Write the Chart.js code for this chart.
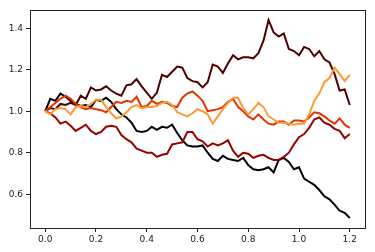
<!DOCTYPE html>
<html>
<head>
<meta charset="utf-8">
<script src="https://cdn.jsdelivr.net/npm/chart.js@4"></script>
<style>
  html, body { margin: 0; padding: 0; background: #fff; }
  #wrap { width: 375px; height: 252px; }
</style>
</head>
<body>
<div id="wrap"><canvas id="chart" width="375" height="252"></canvas></div>
<script>
// time steps (0.00 .. 1.20, every 0.02)
const steps = [0, .02, .04, .06, .08, .10, .12, .14, .16, .18, .20, .22, .24, .26, .28, .30,
  .32, .34, .36, .38, .40, .42, .44, .46, .48, .50, .52, .54, .56, .58, .60, .62, .64, .66,
  .68, .70, .72, .74, .76, .78, .80, .82, .84, .86, .88, .90, .92, .94, .96, .98, 1.00,
  1.02, 1.04, 1.06, 1.08, 1.10, 1.12, 1.14, 1.16, 1.18, 1.20];

const walkBlack = [1.00, 1.06, 1.05, 1.085, 1.07, 1.05, 1.035, 1.025, 1.03, 1.02, 1.055,
  1.05, 1.065, 1.045, 1.01, 0.985, 0.97, 0.945, 0.905, 0.90, 0.905, 0.925, 0.91, 0.925,
  0.92, 0.935, 0.895, 0.86, 0.835, 0.83, 0.83, 0.835, 0.80, 0.77, 0.76, 0.785, 0.77, 0.765,
  0.76, 0.775, 0.74, 0.72, 0.715, 0.72, 0.73, 0.705, 0.765, 0.775, 0.755, 0.72, 0.73,
  0.675, 0.66, 0.645, 0.62, 0.59, 0.575, 0.55, 0.52, 0.51, 0.485];

const walkMaroon = [1.00, 1.015, 1.01, 1.035, 1.03, 1.04, 1.03, 1.075, 1.06, 1.115, 1.10,
  1.105, 1.12, 1.10, 1.085, 1.075, 1.125, 1.13, 1.155, 1.12, 1.09, 1.06, 1.09, 1.175, 1.165,
  1.19, 1.215, 1.21, 1.16, 1.145, 1.14, 1.115, 1.14, 1.225, 1.215, 1.185, 1.23, 1.27, 1.25,
  1.26, 1.26, 1.255, 1.28, 1.34, 1.44, 1.38, 1.36, 1.375, 1.30, 1.29, 1.27, 1.31, 1.30,
  1.265, 1.29, 1.25, 1.235, 1.18, 1.10, 1.105, 1.03];

const walkDarkRed = [1.00, 0.99, 0.97, 0.94, 0.95, 0.93, 0.905, 0.92, 0.935, 0.905, 0.89,
  0.90, 0.925, 0.93, 0.925, 0.885, 0.865, 0.85, 0.82, 0.81, 0.80, 0.80, 0.78, 0.79, 0.795,
  0.84, 0.845, 0.85, 0.90, 0.90, 0.865, 0.855, 0.83, 0.845, 0.835, 0.845, 0.86, 0.81, 0.78,
  0.80, 0.795, 0.775, 0.785, 0.79, 0.775, 0.765, 0.765, 0.78, 0.80, 0.84, 0.875, 0.89, 0.92,
  0.96, 0.97, 0.945, 0.935, 0.915, 0.905, 0.87, 0.89];

const walkRed = [1.00, 1.02, 1.04, 1.06, 1.075, 1.06, 1.035, 1.02, 1.01, 1.015, 1.01,
  1.005, 0.995, 1.02, 1.045, 1.04, 1.05, 1.045, 1.07, 1.02, 1.025, 1.05, 1.035, 1.045, 1.04,
  1.025, 1.02, 1.065, 1.085, 1.095, 1.075, 1.05, 1.00, 1.005, 1.01, 1.02, 1.045, 1.06, 1.02,
  1.00, 0.975, 0.96, 0.985, 0.96, 0.94, 0.935, 0.95, 0.95, 0.935, 0.955, 0.955, 0.95, 0.97,
  0.995, 0.99, 0.975, 0.955, 0.94, 0.965, 0.935, 0.92];

const walkOrange = [1.00, 0.985, 1.01, 1.015, 1.01, 0.985, 1.02, 1.025, 1.02, 1.035, 1.055,
  1.055, 1.02, 0.99, 0.965, 0.975, 0.995, 1.02, 1.03, 1.015, 1.02, 1.02, 1.025, 1.04, 1.045,
  1.03, 0.995, 0.985, 0.975, 0.99, 1.01, 1.00, 0.985, 0.94, 0.975, 1.01, 1.04, 1.065, 1.065,
  1.015, 0.985, 1.01, 1.04, 1.02, 0.975, 0.96, 0.945, 0.945, 0.94, 0.935, 0.94, 0.94, 0.985,
  1.05, 1.085, 1.14, 1.16, 1.21, 1.18, 1.145, 1.175];

const xTicks = [0, 0.2, 0.4, 0.6, 0.8, 1.0, 1.2];
const yTicks = [0.6, 0.8, 1.0, 1.2, 1.4];

// gist_heat colours, first series drawn first
const series = [
  { name: 'walk 0', values: walkBlack, color: '#000000' },
  { name: 'walk 1', values: walkMaroon, color: '#4c0000' },
  { name: 'walk 2', values: walkDarkRed, color: '#990000' },
  { name: 'walk 3', values: walkRed, color: '#e53300' },
  { name: 'walk 4', values: walkOrange, color: '#ff9933' }
];

const frame = {
  id: 'frame',
  afterDatasetsDraw(chart) {
    const a = chart.chartArea;
    const ctx = chart.ctx;
    ctx.save();
    ctx.strokeStyle = '#222';
    ctx.lineWidth = 1;
    ctx.strokeRect(Math.round(a.left) + 0.5, Math.round(a.top) + 0.5,
      Math.round(a.right - a.left), Math.round(a.bottom - a.top));
    ctx.restore();
  }
};

const axisFont = { family: 'DejaVu Sans', size: 9 };

new Chart(document.getElementById('chart'), {
  type: 'line',
  data: {
    datasets: series.map((s, i) => ({
      label: s.name,
      data: steps.map((t, k) => ({ x: t, y: s.values[k] })),
      borderColor: s.color,
      borderWidth: 2,
      pointRadius: 0,
      tension: 0,
      fill: false,
      order: series.length - i
    }))
  },
  options: {
    responsive: false,
    animation: false,
    layout: { padding: { top: 10, right: 10, left: 0, bottom: 0 } },
    plugins: { legend: { display: false }, tooltip: { enabled: false } },
    scales: {
      x: {
        type: 'linear',
        min: -0.06,
        max: 1.26,
        afterBuildTicks: scale => { scale.ticks = xTicks.map(v => ({ value: v })); },
        afterFit: scale => { scale.height = 24; },
        grid: { drawOnChartArea: false, drawTicks: true, tickLength: 4, color: '#222' },
        border: { display: false },
        ticks: { color: '#222', font: axisFont, padding: 2, maxRotation: 0,
          callback: v => v.toFixed(1) }
      },
      y: {
        type: 'linear',
        min: 0.437,
        max: 1.488,
        afterBuildTicks: scale => { scale.ticks = yTicks.map(v => ({ value: v })); },
        afterFit: scale => { scale.width = 30; },
        grid: { drawOnChartArea: false, drawTicks: true, tickLength: 4, color: '#222' },
        border: { display: false },
        ticks: { color: '#222', font: axisFont, padding: 3,
          callback: v => v.toFixed(1) }
      }
    }
  },
  plugins: [frame]
});
</script>
</body>
</html>
